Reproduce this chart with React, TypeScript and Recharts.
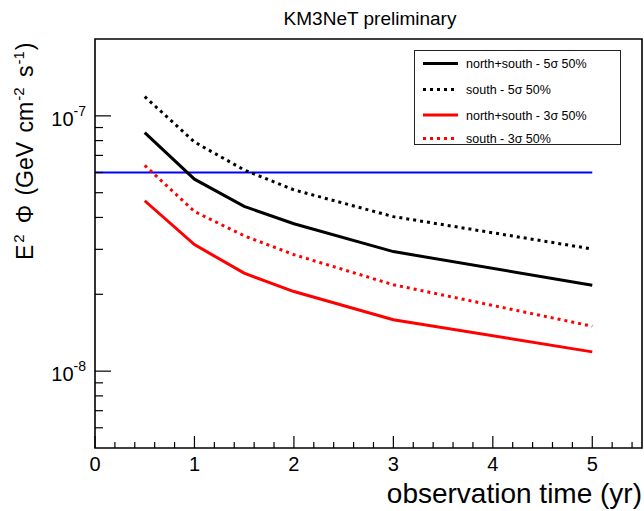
import React from 'react';
import { LineChart, Line, XAxis, YAxis, Legend, ReferenceArea, Customized } from 'recharts';

// observation time (yr) at which the discovery flux was computed
const years = [0.5, 1, 1.5, 2, 3, 5];

// E^2 Phi (GeV cm^-2 s^-1)
const northSouth5s = [8.6e-8, 5.65e-8, 4.42e-8, 3.78e-8, 2.94e-8, 2.17e-8];
const south5s = [1.19e-7, 7.9e-8, 6.14e-8, 5.13e-8, 4.03e-8, 3.01e-8];
const northSouth3s = [4.65e-8, 3.13e-8, 2.42e-8, 2.05e-8, 1.59e-8, 1.19e-8];
const south3s = [6.4e-8, 4.22e-8, 3.39e-8, 2.86e-8, 2.18e-8, 1.5e-8];

// horizontal reference flux (blue)
const refYears = [0, 5];
const refFlux = [6e-8, 6e-8];

const xTicks = [0, 0.2, 0.4, 0.6, 0.8, 1, 1.2, 1.4, 1.6, 1.8, 2, 2.2, 2.4, 2.6, 2.8, 3, 3.2, 3.4, 3.6, 3.8, 4, 4.2, 4.4, 4.6, 4.8, 5, 5.2, 5.4];
const yTicks = [6e-9, 7e-9, 8e-9, 9e-9, 1e-8, 2e-8, 3e-8, 4e-8, 5e-8, 6e-8, 7e-8, 8e-8, 9e-8, 1e-7];
const yDecades = [1e-8, 1e-7];

const series = [
  { name: 'north+south - 5σ 50%', values: northSouth5s, color: '#000000', dash: undefined },
  { name: 'south - 5σ 50%', values: south5s, color: '#000000', dash: '3 4' },
  { name: 'north+south - 3σ 50%', values: northSouth3s, color: '#ff0000', dash: undefined },
  { name: 'south - 3σ 50%', values: south3s, color: '#ff0000', dash: '3 4' },
];

const FONT = '"Liberation Sans", Helvetica, Arial, sans-serif';

function XTick(props: any) {
  const { x, y, payload } = props;
  const v = payload.value;
  const major = Math.abs(v - Math.round(v)) < 1e-6;
  return (
    <g>
      <line x1={x} x2={x} y1={y} y2={y - (major ? 12 : 6)} stroke="#000" strokeWidth={1.2} />
      {major && (
        <text x={x} y={y + 23} textAnchor="middle" fontSize={20} fontFamily={FONT} fill="#000">
          {Math.round(v)}
        </text>
      )}
    </g>
  );
}

function YTick(props: any) {
  const { x, y, payload } = props;
  const v = payload.value;
  const major = yDecades.some(d => Math.abs(d - v) / d < 1e-6);
  const exp = Math.round(Math.log10(v));
  return (
    <g>
      <line x1={x} x2={x + (major ? 16 : 8)} y1={y} y2={y} stroke="#000" strokeWidth={1.2} />
      {major && (
        <text x={x - 9} y={y + 10} textAnchor="end" fontSize={20} fontFamily={FONT} fill="#000">
          <tspan>10</tspan>
          <tspan dy={-10} fontSize={14}>{exp}</tspan>
        </text>
      )}
    </g>
  );
}

function renderLegend() {
  return (
    <svg width={207} height={95} style={{ display: 'block' }}>
      <rect x={0.5} y={0.5} width={206} height={94} fill="#fff" stroke="#222" strokeWidth={1} />
      {series.map((s, i) => {
        const rowY = [13.5, 39.5, 65, 88.5][i];
        return (
          <g key={s.name}>
            <line x1={9} x2={44} y1={rowY} y2={rowY} stroke={s.color} strokeWidth={3} strokeDasharray={s.dash} />
            <text x={52} y={rowY + 4.5} fontSize={12.5} fontFamily={FONT} fill="#000">{s.name}</text>
          </g>
        );
      })}
    </svg>
  );
}

function Titles() {
  return (
    <g fontFamily={FONT} fill="#000">
      <text x={370} y={25} textAnchor="middle" fontSize={19}>KM3NeT preliminary</text>
      <text x={642} y={503} textAnchor="end" fontSize={28}>observation time (yr)</text>
      <text x={33} y={260} transform="rotate(-90 33 260)" fontSize={23}>
        <tspan>E</tspan>
        <tspan dy={-9} dx={2} fontSize={15}>2</tspan>
        <tspan dy={9} dx={11}>Φ</tspan>
        <tspan dx={3}> (GeV</tspan>
        <tspan dx={3}> cm</tspan>
        <tspan dy={-9} dx={1} fontSize={15}>-2</tspan>
        <tspan dy={9} dx={4}> s</tspan>
        <tspan dy={-9} dx={1} fontSize={15}>-1</tspan>
        <tspan dy={9} dx={1}>)</tspan>
      </text>
    </g>
  );
}

export default function App() {
  const lineData = series.map(s => years.map((x, i) => ({ x, y: s.values[i] })));
  const refData = refYears.map((x, i) => ({ x, y: refFlux[i] }));

  return (
    <div style={{ position: 'absolute', left: 0, top: 0, width: 644, height: 511, background: '#fff' }}>
      <LineChart width={644} height={511} margin={{ top: 39, right: 2, bottom: 62, left: 94 }}>
        <XAxis
          dataKey="x"
          type="number"
          domain={[0, 5.5]}
          ticks={xTicks}
          interval={0}
          height={1}
          tickSize={0}
          tickMargin={0}
          tickLine={false}
          axisLine={false}
          tick={<XTick />}
          allowDataOverflow
        />
        <YAxis
          dataKey="y"
          type="number"
          scale="log"
          domain={[5e-9, 2e-7]}
          ticks={yTicks}
          interval={0}
          width={1}
          tickSize={0}
          tickMargin={0}
          tickLine={false}
          axisLine={false}
          tick={<YTick />}
          allowDataOverflow
        />
        <ReferenceArea x1={0} x2={5.5} y1={5e-9} y2={2e-7} fill="none" stroke="#000" strokeWidth={1.6} ifOverflow="visible" />
        <Line
          data={refData}
          dataKey="y"
          stroke="#0000ff"
          strokeWidth={2}
          dot={false}
          legendType="none"
          isAnimationActive={false}
        />
        {series.map((s, i) => (
          <Line
            key={s.name}
            data={lineData[i]}
            dataKey="y"
            name={s.name}
            stroke={s.color}
            strokeWidth={3}
            strokeDasharray={s.dash}
            dot={false}
            isAnimationActive={false}
          />
        ))}
        <Legend
          layout="horizontal"
          verticalAlign="middle"
          align="center"
          content={renderLegend}
          wrapperStyle={{ left: 414, top: 50, width: 207, height: 95 }}
        />
        <Customized component={<Titles />} />
      </LineChart>
    </div>
  );
}
